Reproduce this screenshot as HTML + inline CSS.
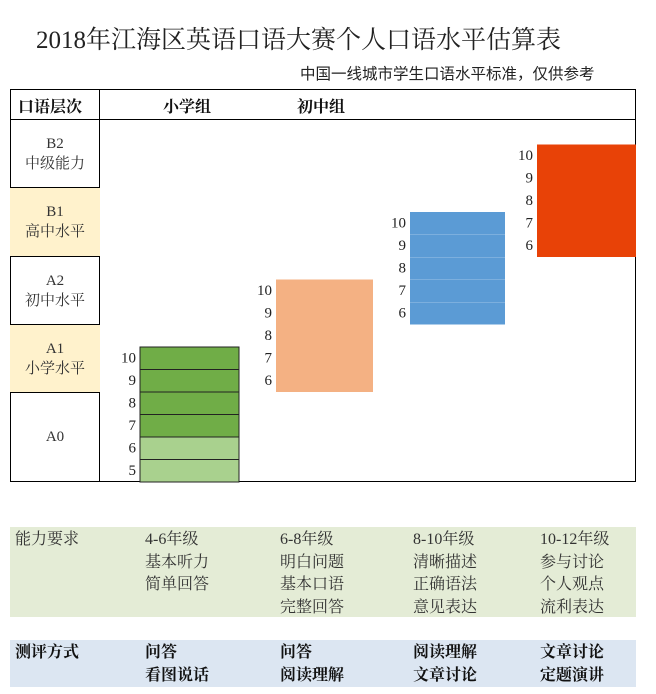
<!DOCTYPE html>
<html><head><meta charset="utf-8">
<style>
body{margin:0;width:656px;height:694px;background:#fff;font-family:"Liberation Serif","Noto Serif CJK SC",serif;color:#222;position:relative;overflow:hidden}
.a{position:absolute;white-space:nowrap}
.cell{position:absolute;left:10px;width:90px;border-bottom:1px solid #000;text-align:center;font-size:15px;line-height:20px;box-sizing:border-box;display:flex;flex-direction:column;justify-content:center;color:#333}
.y{background:#fff2cc}
.panel{position:absolute;left:10px;width:626px}
.t{position:absolute;font-size:16px;line-height:22.5px;color:#333}
.b{font-weight:bold;color:#111}
</style></head><body>
<div class="a" style="left:36px;top:20px;font-size:25px;font-family:'Liberation Serif','Noto Serif CJK SC',serif">2018年江海区英语口语大赛个人口语水平估算表</div>
<div class="a" style="left:300px;top:62px;font-size:15.5px;font-family:'Liberation Sans','Noto Sans CJK SC',sans-serif">中国一线城市学生口语水平标准，仅供参考</div>

<div style="position:absolute;left:10px;top:89px;width:626px;height:393px;border:1px solid #000;box-sizing:border-box"></div>
<div style="position:absolute;left:10px;top:119px;width:626px;height:1px;background:#000"></div>
<div style="position:absolute;left:99px;top:89px;width:1px;height:393px;background:#000"></div>
<div class="a b" style="left:18px;top:94px;font-size:16px">口语层次</div>
<div class="a b" style="left:163px;top:94px;font-size:16px">小学组</div>
<div class="a b" style="left:297px;top:94px;font-size:16px">初中组</div>

<div class="cell" style="top:120px;height:68px"><div>B2</div><div>中级能力</div></div>
<div class="cell y" style="top:188px;height:69px"><div>B1</div><div>高中水平</div></div>
<div class="cell" style="top:257px;height:68px"><div>A2</div><div>初中水平</div></div>
<div class="cell y" style="top:325px;height:68px"><div>A1</div><div>小学水平</div></div>
<div class="cell" style="top:393px;height:88px;border-bottom:none"><div>A0</div></div>

<svg id="chart" width="656" height="694" style="position:absolute;left:0;top:0"></svg>

<div class="panel" style="top:527px;height:90px;background:#e4ecd6"></div>
<div class="t" style="left:15px;top:529px">能力要求</div>
<div class="t" style="left:145px;top:529px">4-6年级<br>基本听力<br>简单回答</div>
<div class="t" style="left:280px;top:529px">6-8年级<br>明白问题<br>基本口语<br>完整回答</div>
<div class="t" style="left:413px;top:529px">8-10年级<br>清晰描述<br>正确语法<br>意见表达</div>
<div class="t" style="left:540px;top:529px">10-12年级<br>参与讨论<br>个人观点<br>流利表达</div>

<div class="panel" style="top:640px;height:47px;background:#dce6f2"></div>
<div class="t b" style="left:15px;top:642px">测评方式</div>
<div class="t b" style="left:145px;top:642px">问答<br>看图说话</div>
<div class="t b" style="left:280px;top:642px">问答<br>阅读理解</div>
<div class="t b" style="left:413px;top:642px">阅读理解<br>文章讨论</div>
<div class="t b" style="left:540px;top:642px">文章讨论<br>定题演讲</div>

<script>
const groups=["primary","junior","senior","advanced"];
const minScores=[5,6,6,6];
const maxScores=[10,10,10,10];
const baseUnits=[0,4,7,10];
const colors=["#70ad47","#f4b183","#5b9bd5","#e84207"];
const lightColors=["#a9d18e",null,null,null];
const lightBelow=[7,0,0,0];
const xLeft=[140,276,410,537];
const xWidth=[99,97,95,99];
const unit=22.5, y0=482;
function yScale(u){return y0-u*unit;}
const svg=document.getElementById('chart');
const NS="http://www.w3.org/2000/svg";
groups.forEach((g,i)=>{
  for(let s=minScores[i];s<=maxScores[i];s++){
    const u=baseUnits[i]+(s-minScores[i]);
    const r=document.createElementNS(NS,'rect');
    
    
    r.setAttribute('x',xLeft[i]);r.setAttribute('y',yScale(u+1));
    r.setAttribute('width',xWidth[i]);r.setAttribute('height',unit);
    r.setAttribute('fill',(lightColors[i]&&s<lightBelow[i])?lightColors[i]:colors[i]);
    if(i===0){r.setAttribute('stroke','#222');r.setAttribute('stroke-width','1');}
    svg.appendChild(r);
    if(i===2&&s<maxScores[i]){
      const l=document.createElementNS(NS,'line');
      
      
      l.setAttribute('x1',xLeft[i]);l.setAttribute('x2',xLeft[i]+xWidth[i]);
      l.setAttribute('y1',yScale(u+1));l.setAttribute('y2',yScale(u+1));
      l.setAttribute('stroke','#9cc3e8');l.setAttribute('stroke-width','1');
      svg.appendChild(l);
    }
    const t=document.createElementNS(NS,'text');
    
    
    t.setAttribute('x',xLeft[i]-4);t.setAttribute('y',yScale(u+0.5)+4);
    t.setAttribute('text-anchor','end');t.setAttribute('font-size','15');
    t.setAttribute('font-family','Liberation Serif, serif');t.setAttribute('fill','#222');
    t.textContent=s;
    svg.appendChild(t);
  }
});
</script>
</body></html>
